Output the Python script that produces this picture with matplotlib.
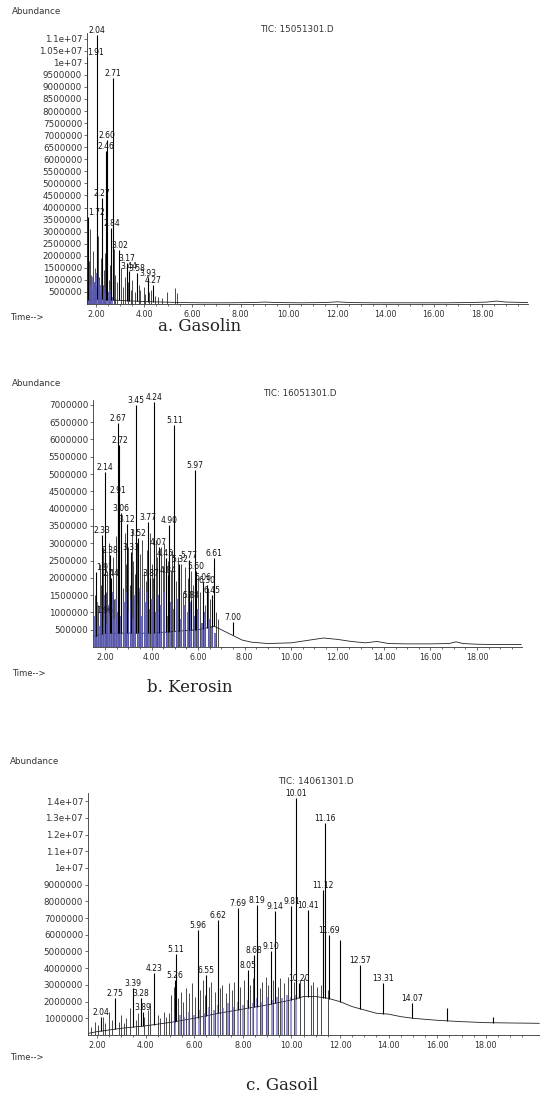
import matplotlib
matplotlib.use("Agg")
import matplotlib.pyplot as plt
import numpy as np

# ---------------- a. Gasolin ----------------
a_peak_t = [1.66, 2.04, 2.70, 2.48, 2.43, 2.25, 2.65, 1.70, 2.98, 3.28, 3.38, 3.70, 4.17, 4.37]
a_peak_v = [10.25e6, 11.15e6, 9.36e6, 6.8e6, 6.34e6, 4.4e6, 3.15e6, 3.6e6,
            2.24e6, 1.7e6, 1.37e6, 1.29e6, 1.08e6, 0.79e6]
a_peak_lab = ["1.91", "2.04", "2.71", "2.60", "2.46", "2.27", "2.84", "1.72",
              "3.02", "3.17", "3.44", "3.58", "3.93", "4.27"]
a_small_t = [1.68, 1.72, 1.76, 1.82, 1.88, 1.93, 1.98, 2.10, 2.15, 2.20,
             2.30, 2.35, 2.40, 2.55, 2.60, 2.76, 2.82, 2.90, 3.05, 3.12,
             3.22, 3.33, 3.45, 3.52, 3.62, 3.78, 3.85, 3.98, 4.05, 4.22,
             4.30, 4.45, 4.60, 4.75, 4.94, 5.28, 5.35]
a_small_v = [2.6, 1.8, 3.1, 1.2, 2.2, 0.9, 1.5, 2.8, 1.1, 1.9,
             0.8, 1.4, 2.1, 1.0, 1.6, 2.3, 1.2, 0.9, 1.5, 0.7,
             1.1, 0.9, 0.6, 1.0, 0.5, 0.8, 0.6, 0.7, 0.4, 0.5,
             0.6, 0.35, 0.3, 0.25, 0.5, 0.66, 0.45]
a_blue_t = [1.66, 1.70, 1.74, 1.78, 1.84, 1.90, 1.95, 2.00, 2.06, 2.12,
            2.18, 2.24, 2.30, 2.36, 2.44, 2.52, 2.58, 2.66]
a_blue_v = [1.2, 0.9, 1.4, 0.8, 1.1, 0.6, 0.9, 1.3, 0.7, 1.0,
            0.5, 0.8, 0.6, 0.7, 0.4, 0.5, 0.6, 0.3]
a_base_t = [1.64, 2.0, 3.0, 4.0, 4.8, 5.5, 6.5, 7.5, 8.5, 9.0, 9.5, 10.5,
            11.5, 12.0, 12.5, 13.5, 14.5, 15.5, 16.5, 17.5, 18.2, 18.6, 19.0, 19.9]
a_base_v = [0.15, 0.2, 0.15, 0.1, 0.08, 0.06, 0.05, 0.05, 0.06, 0.08, 0.06, 0.05,
            0.06, 0.09, 0.06, 0.05, 0.05, 0.05, 0.05, 0.06, 0.08, 0.12, 0.08, 0.06]
a_yticks = ["500000", "1000000", "1500000", "2000000", "2500000", "3000000",
            "3500000", "4000000", "4500000", "5000000", "5500000", "6000000",
            "6500000", "7000000", "7500000", "8000000", "8500000", "9000000",
            "9500000", "1e+07", "1.05e+07", "1.1e+07"]

# ---------------- b. Kerosin ----------------
b_peak_t = [2.00, 2.57, 2.62, 3.32, 4.12, 4.98, 5.87, 2.54, 2.70, 2.95, 3.86, 4.77,
            1.86, 6.70, 5.62, 7.49, 6.40, 1.60, 3.42, 4.30, 4.60, 5.20, 5.90, 6.20,
            6.60, 5.70, 2.20, 3.10, 2.25, 3.95, 4.70, 1.62]
b_peak_v = [5.07e6, 6.47e6, 5.84e6, 7.0e6, 7.09e6, 6.42e6, 5.12e6, 4.4e6, 3.87e6,
            3.55e6, 3.62e6, 3.53e6, 3.24e6, 2.57e6, 2.52e6, 0.73e6, 1.79e6, 2.17e6,
            3.15e6, 2.9e6, 2.57e6, 2.4e6, 2.2e6, 1.88e6, 1.5e6, 1.36e6, 2.66e6,
            2.75e6, 2.0e6, 2.0e6, 2.08e6, 0.92e6]
b_peak_lab = ["2.14", "2.67", "2.72", "3.45", "4.24", "5.11", "5.97", "2.91", "3.06",
              "3.12", "3.77", "4.90", "2.33", "6.61", "5.77", "7.00", "6.30", "1.91",
              "3.52", "4.07", "4.45", "5.32", "5.60", "6.06", "6.45", "5.88", "2.38",
              "3.33", "2.44", "3.87", "4.84", "1.96"]
b_small_t = [1.56, 1.62, 1.70, 1.78, 1.84, 1.92, 2.05, 2.10, 2.18, 2.25,
             2.32, 2.40, 2.47, 2.60, 2.68, 2.78, 2.85, 2.92, 3.00, 3.08,
             3.15, 3.22, 3.28, 3.38, 3.45, 3.52, 3.60, 3.68, 3.75, 3.82,
             3.92, 4.00, 4.06, 4.18, 4.25, 4.32, 4.40, 4.48, 4.55, 4.63,
             4.70, 4.82, 4.90, 5.05, 5.12, 5.20, 5.28, 5.36, 5.45, 5.55,
             5.62, 5.70, 5.80, 5.92, 6.00, 6.10, 6.20, 6.30, 6.42, 6.52,
             6.60, 6.78, 6.88]
b_small_v = [1.5, 2.1, 1.2, 2.4, 1.8, 2.9, 1.6, 2.2, 3.0, 1.9,
             2.6, 1.4, 3.2, 2.0, 2.8, 1.7, 3.3, 2.4, 2.9, 1.8,
             3.4, 2.5, 2.1, 3.0, 1.6, 2.7, 3.1, 2.2, 1.9, 2.8,
             3.3, 2.4, 2.0, 3.1, 2.6, 1.8, 2.9, 2.3, 3.0, 1.7,
             2.5, 2.2, 2.8, 1.9, 2.6, 2.1, 2.4, 1.6, 2.3, 2.0,
             1.5, 2.2, 1.8, 1.3, 2.0, 1.6, 1.9, 1.2, 1.7, 1.4,
             1.1, 1.0, 0.8]
b_blue_t = [1.58, 1.66, 1.74, 1.82, 1.90, 1.98, 2.06, 2.14, 2.22, 2.30,
            2.38, 2.46, 2.54, 2.62, 2.70, 2.80, 2.90, 3.00, 3.10, 3.20,
            3.30, 3.40, 3.50, 3.60, 3.70, 3.80, 3.90, 4.00, 4.10, 4.20,
            4.30, 4.42, 4.55, 4.68, 4.80, 4.95, 5.10, 5.25, 5.40, 5.55,
            5.70, 5.85, 6.00, 6.15, 6.30, 6.45, 6.60, 6.75]
b_blue_v = [0.9, 1.3, 0.6, 1.1, 0.8, 1.5, 0.7, 1.2, 0.9, 1.6,
            0.8, 1.4, 1.0, 1.7, 0.9, 1.3, 1.6, 1.0, 1.4, 0.8,
            1.5, 1.2, 1.7, 0.9, 1.3, 1.6, 1.1, 1.4, 1.7, 1.0,
            1.5, 1.2, 1.6, 0.9, 1.3, 1.1, 1.4, 0.8, 1.2, 1.0,
            1.3, 0.9, 1.1, 0.7, 1.0, 0.8, 0.6, 0.4]
b_base_t = [1.5, 2.0, 3.0, 4.0, 5.0, 6.0, 6.7, 7.0, 7.3, 7.6, 7.9, 8.3, 9.0, 10.0,
            10.8, 11.4, 12.0, 12.6, 13.2, 13.7, 14.2, 15.0, 16.0, 16.8, 17.1, 17.4,
            18.0, 19.0, 19.9]
b_base_v = [0.3, 0.4, 0.4, 0.4, 0.45, 0.5, 0.6, 0.5, 0.4, 0.3, 0.2, 0.14, 0.1, 0.12,
            0.2, 0.26, 0.22, 0.16, 0.12, 0.16, 0.1, 0.09, 0.09, 0.1, 0.15, 0.1,
            0.08, 0.07, 0.07]
b_yticks = ["500000", "1000000", "1500000", "2000000", "2500000", "3000000",
            "3500000", "4000000", "4500000", "5000000", "5500000", "6000000",
            "6500000", "7000000"]

# ---------------- c. Gasoil ----------------
c_peak_t = [2.16, 2.74, 3.49, 3.80, 3.90, 4.35, 5.25, 5.20, 6.14, 6.50, 6.99, 7.79,
            8.20, 8.45, 8.57, 9.15, 9.33, 10.00, 10.20, 10.67, 10.30, 11.31, 11.38,
            11.55, 12.00, 12.82, 13.76, 14.95, 16.39, 18.28]
c_peak_v = [1.08e6, 2.2e6, 2.8e6, 2.2e6, 1.4e6, 3.7e6, 4.85e6, 3.3e6, 6.3e6, 3.6e6,
            6.9e6, 7.6e6, 3.9e6, 4.8e6, 7.8e6, 5.0e6, 7.4e6, 7.7e6, 14.2e6, 7.5e6,
            3.1e6, 8.7e6, 12.7e6, 6.0e6, 5.7e6, 4.2e6, 3.1e6, 1.9e6, 1.6e6, 1.05e6]
c_peak_lab = ["2.04", "2.75", "3.39", "3.28", "3.89", "4.23", "5.11", "5.26", "5.96",
              "6.55", "6.62", "7.69", "8.05", "8.68", "8.19", "9.10", "9.14", "9.81",
              "10.01", "10.41", "10.20", "11.12", "11.16", "11.69", "", "12.57",
              "13.31", "14.07", "", ""]
c_small_t = [1.75, 1.90, 2.05, 2.25, 2.35, 2.50, 2.60, 2.90, 3.00, 3.10,
             3.20, 3.35, 3.60, 3.70, 3.95, 4.10, 4.20, 4.50, 4.60, 4.75,
             4.85, 4.95, 5.05, 5.15, 5.35, 5.45, 5.55, 5.65, 5.80, 5.90,
             6.05, 6.25, 6.35, 6.45, 6.60, 6.70, 6.85, 7.05, 7.15, 7.30,
             7.45, 7.55, 7.65, 7.90, 8.05, 8.30, 8.40, 8.70, 8.80, 8.95,
             9.05, 9.25, 9.45, 9.55, 9.70, 9.85, 10.10, 10.35, 10.50, 10.80,
             10.90, 11.05, 11.22, 11.50]
c_small_v = [0.5, 0.8, 0.6, 1.1, 0.7, 1.4, 0.9, 0.8, 1.2, 0.7,
             1.0, 1.6, 0.9, 1.3, 1.1, 1.5, 1.9, 1.2, 1.0, 1.4,
             1.1, 1.3, 2.4, 2.9, 2.2, 2.6, 2.0, 2.8, 2.5, 3.1,
             2.3, 2.7, 3.3, 2.4, 2.9, 3.2, 2.6, 2.8, 3.0, 2.5,
             3.1, 2.7, 3.2, 2.9, 3.3, 3.0, 3.4, 2.8, 3.2, 3.5,
             3.0, 3.3, 2.9, 3.4, 3.1, 3.5, 3.2, 3.3, 3.4, 3.0,
             3.2, 2.9, 3.0, 2.7]
c_blue_t = [5.2, 5.4, 5.6, 5.8, 6.0, 6.2, 6.4, 6.6, 6.8, 7.0,
            7.2, 7.4, 7.6, 7.8, 8.0, 8.2, 8.4, 8.6, 8.8, 9.0,
            9.2, 9.4, 9.6, 9.8, 10.0, 10.2]
c_blue_v = [1.0, 1.2, 1.1, 1.4, 1.2, 1.5, 1.3, 1.7, 1.5, 1.8,
            1.6, 1.9, 1.7, 2.0, 1.8, 2.1, 1.9, 2.2, 2.0, 2.3,
            2.1, 2.3, 2.2, 2.4, 2.3, 2.4]
c_base_t = [1.65, 2.0, 3.0, 4.0, 5.0, 6.0, 7.0, 8.0, 9.0, 10.0, 10.5, 11.0, 11.5,
            12.0, 12.5, 13.0, 13.5, 14.0, 14.5, 15.0, 16.0, 17.0, 18.0, 19.0, 20.2]
c_base_v = [0.1, 0.2, 0.4, 0.55, 0.75, 1.0, 1.3, 1.55, 1.8, 2.1, 2.3, 2.3, 2.2,
            2.0, 1.7, 1.5, 1.3, 1.25, 1.1, 1.0, 0.88, 0.8, 0.74, 0.72, 0.7]
c_yticks = ["1000000", "2000000", "3000000", "4000000", "5000000", "6000000",
            "7000000", "8000000", "9000000", "1e+07", "1.1e+07", "1.2e+07",
            "1.3e+07", "1.4e+07"]

x_ticks = ["2.00", "4.00", "6.00", "8.00", "10.00", "12.00", "14.00", "16.00", "18.00"]

W, H = 540, 1096
BLUE = "#5b5bb5"


def px_axes(fig, left, right, top, bottom):
    return fig.add_axes([left / W, 1 - bottom / H, (right - left) / W, (bottom - top) / H])


def draw_panel(ax, peak_t, peak_v, labels, small_t, small_v, blue_t, blue_v,
               base_t, base_v, ystep, ytick_labels, xlim, ylim, blue_alpha=0.85):
    base_t = np.array(base_t)
    base_v = np.array(base_v) * 1e6
    ax.plot(base_t, base_v, color="#222222", lw=0.6)
    ax.vlines(small_t, 0, np.array(small_v) * 1e6, color="#1a1a1a", lw=0.55)
    ax.vlines(blue_t, 0, np.array(blue_v) * 1e6, color=BLUE, lw=1.5, alpha=blue_alpha)
    bottoms = np.interp(peak_t, base_t, base_v)
    ax.vlines(peak_t, bottoms, peak_v, color="black", lw=0.8)
    for t, v, lab in zip(peak_t, peak_v, labels):
        if not lab:
            continue
        # labels of peaks hugging the y axis are pushed to the right
        ha = "left" if t - xlim[0] < 0.3 else "center"
        ax.text(t, v, lab, fontsize=5.5, ha=ha, va="bottom", color="#111111")

    ax.set_xlim(*xlim)
    ax.set_ylim(*ylim)
    ax.set_xticks(np.arange(2, 19, 2))
    ax.set_xticklabels(x_ticks)
    ax.set_xticks(np.arange(2, 20, 0.5), minor=True)
    ax.set_yticks(ystep * np.arange(1, len(ytick_labels) + 1))
    ax.set_yticklabels(ytick_labels)
    for side in ["top", "right"]:
        ax.spines[side].set_visible(False)
    for side in ["left", "bottom"]:
        ax.spines[side].set_linewidth(0.6)
        ax.spines[side].set_color("#333333")
    ax.tick_params(axis="y", labelsize=6.3, length=2, width=0.5, pad=1.5, colors="#333333")
    ax.tick_params(axis="x", labelsize=5.8, length=2.5, width=0.5, pad=2, colors="#333333")
    ax.tick_params(axis="x", which="minor", length=1.5, width=0.4)
    ax.patch.set_alpha(0)


fig = plt.figure(figsize=(W / 100, H / 100), dpi=100)

ax_a = px_axes(fig, 87, 528, 33, 304)
draw_panel(ax_a, a_peak_t, a_peak_v, a_peak_lab, a_small_t, a_small_v,
           a_blue_t, a_blue_v, a_base_t, a_base_v, 500000, a_yticks,
           (1.64, 19.9), (0, 1.1236e7))

ax_b = px_axes(fig, 93, 522, 400, 647)
draw_panel(ax_b, b_peak_t, b_peak_v, b_peak_lab, b_small_t, b_small_v,
           b_blue_t, b_blue_v, b_base_t, b_base_v, 500000, b_yticks,
           (1.48, 19.94), (0, 7.14e6))

ax_c = px_axes(fig, 88, 540, 793, 1035)
draw_panel(ax_c, c_peak_t, c_peak_v, c_peak_lab, c_small_t, c_small_v,
           c_blue_t, c_blue_v, c_base_t, c_base_v, 1000000, c_yticks,
           (1.63, 20.23), (0, 1.449e7), blue_alpha=0.6)


def ftext(x, y, s, **kw):
    fig.text(x / W, 1 - y / H, s, **kw)


# header texts
ftext(12, 12, "Abundance", fontsize=6.3, color="#333333", va="center")
ftext(12, 384, "Abundance", fontsize=6.3, color="#333333", va="center")
ftext(10, 762, "Abundance", fontsize=6.3, color="#333333", va="center")
ftext(297, 30, "TIC: 15051301.D", fontsize=6.3, color="#333333", ha="center", va="center")
ftext(300, 394, "TIC: 16051301.D", fontsize=6.3, color="#333333", ha="center", va="center")
ftext(316, 781, "TIC: 14061301.D", fontsize=6.5, color="#333333", ha="center", va="center")
ftext(10, 318, "Time-->", fontsize=6, color="#333333", va="center")
ftext(12, 673, "Time-->", fontsize=6, color="#333333", va="center")
ftext(10, 1058, "Time-->", fontsize=6, color="#333333", va="center")

# panel captions
cap = dict(fontsize=12, family="DejaVu Serif", color="#222222", ha="center", va="center")
ftext(200, 327, "a. Gasolin", **cap)
ftext(190, 688, "b. Kerosin", **cap)
ftext(282, 1086, "c. Gasoil", **cap)

fig.savefig("out.png", dpi=100)
